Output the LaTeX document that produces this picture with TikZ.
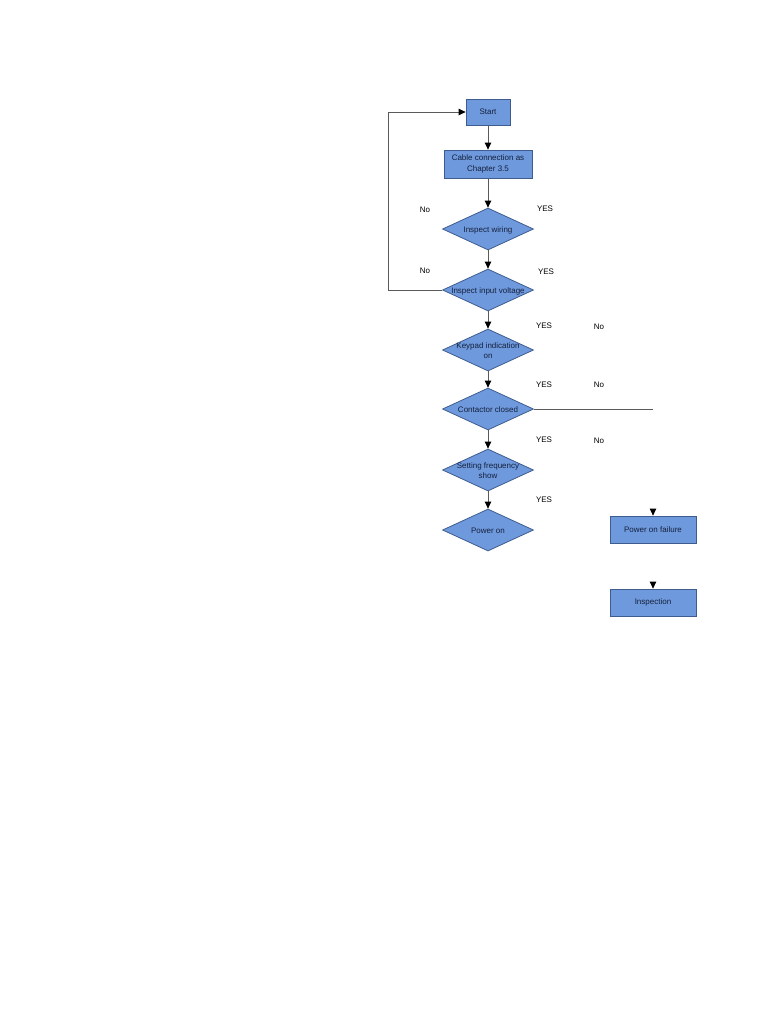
\documentclass[tikz,border=0pt]{standalone}
\usepackage{fontspec}
\setmainfont{Liberation Sans}
\usetikzlibrary{arrows.meta,positioning,shapes.geometric}
\definecolor{boxfill}{HTML}{6F99DD}
\definecolor{boxline}{HTML}{3E5C8E}
\definecolor{boxtext}{HTML}{14213D}
\definecolor{wire}{HTML}{5A5A5A}

\begin{document}
\begin{tikzpicture}[%
    x=1pt, y=-1pt,
    >={Triangle[length=7pt,width=6.5pt,color=black]},
    box/.style={rectangle, draw=boxline, fill=boxfill, line width=0.8pt, inner sep=1pt, align=center, text=boxtext, font=\fontsize{8}{10.6}\selectfont},
    decision/.style={diamond, draw=boxline, fill=boxfill, line width=0.8pt, minimum width=91pt, minimum height=42pt, inner sep=0pt},
    dtext/.style={align=center, text=boxtext, font=\fontsize{8}{10.2}\selectfont, inner sep=0pt, yshift=-1pt},
    flow/.style={->, wire, line width=0.8pt},
    lbl/.style={font=\fontsize{8}{9.4}\selectfont, inner sep=0pt},
  ]
  \useasboundingbox (0,0) rectangle (766,1020);

  % --- main column ---
  \node[box, minimum width=44pt, minimum height=26pt] (start) at (488,112) {Start};
  \node[box, minimum width=88pt, minimum height=28pt] (cable) at (488,164) {Cable connection as\\Chapter 3.5};
  \node[decision, label={[dtext]center:Inspect wiring}] (wiring) at (488,229) {};
  \node[decision, label={[dtext]center:Inspect input voltage}] (volt) at (488,290) {};
  \node[decision, label={[dtext]center:Keypad indication\\on}] (keypad) at (488,350) {};
  \node[decision, label={[dtext]center:Contactor closed}] (contact) at (488,409) {};
  \node[decision, label={[dtext]center:Setting frequency\\show}] (setfreq) at (488,470) {};
  \node[decision, label={[dtext]center:Power on}] (poweron) at (488,530) {};

  % --- right column ---
  \node[box, minimum width=86pt, minimum height=27pt] (fail) at (653,529.5) {Power on failure};
  \node[box, minimum width=86pt, minimum height=27pt] (inspect) at (653,602.5) {Inspection};
  \coordinate (failin) at (653,509);
  \coordinate (inspin) at (653,582);
  \coordinate (contend) at (653,409);
  \coordinate (loopbot) at (388,290);
  \coordinate (looptop) at (388,112);

  \draw[flow] (start) -- (cable);
  \draw[flow] (cable) -- (wiring);
  \draw[flow] (wiring) -- (volt);
  \draw[flow] (volt) -- (keypad);
  \draw[flow] (keypad) -- (contact);
  \draw[flow] (contact) -- (setfreq);
  \draw[flow] (setfreq) -- (poweron);
  \draw[flow] (volt.west) -- (loopbot) -- (looptop) -- (start.west);
  \draw[wire, line width=0.8pt] (contact.east) -- (contend);
  \draw[flow] (failin) -- (fail.north);
  \draw[flow] (inspin) -- (inspect.north);

  % branch labels
  \node[lbl] (no1) at (425,210) {No};
  \node[lbl] (yes1) at (545,209) {YES};
  \node[lbl] (no2) at (425,271) {No};
  \node[lbl] (yes2) at (546,272) {YES};
  \node[lbl] (yes3) at (544,326) {YES};
  \node[lbl] (no3) at (599,327) {No};
  \node[lbl] (yes4) at (544,385) {YES};
  \node[lbl] (no4) at (599,385) {No};
  \node[lbl] (yes5) at (544,440) {YES};
  \node[lbl] (no5) at (599,441) {No};
  \node[lbl] (yes6) at (544,500) {YES};
\end{tikzpicture}
\end{document}
